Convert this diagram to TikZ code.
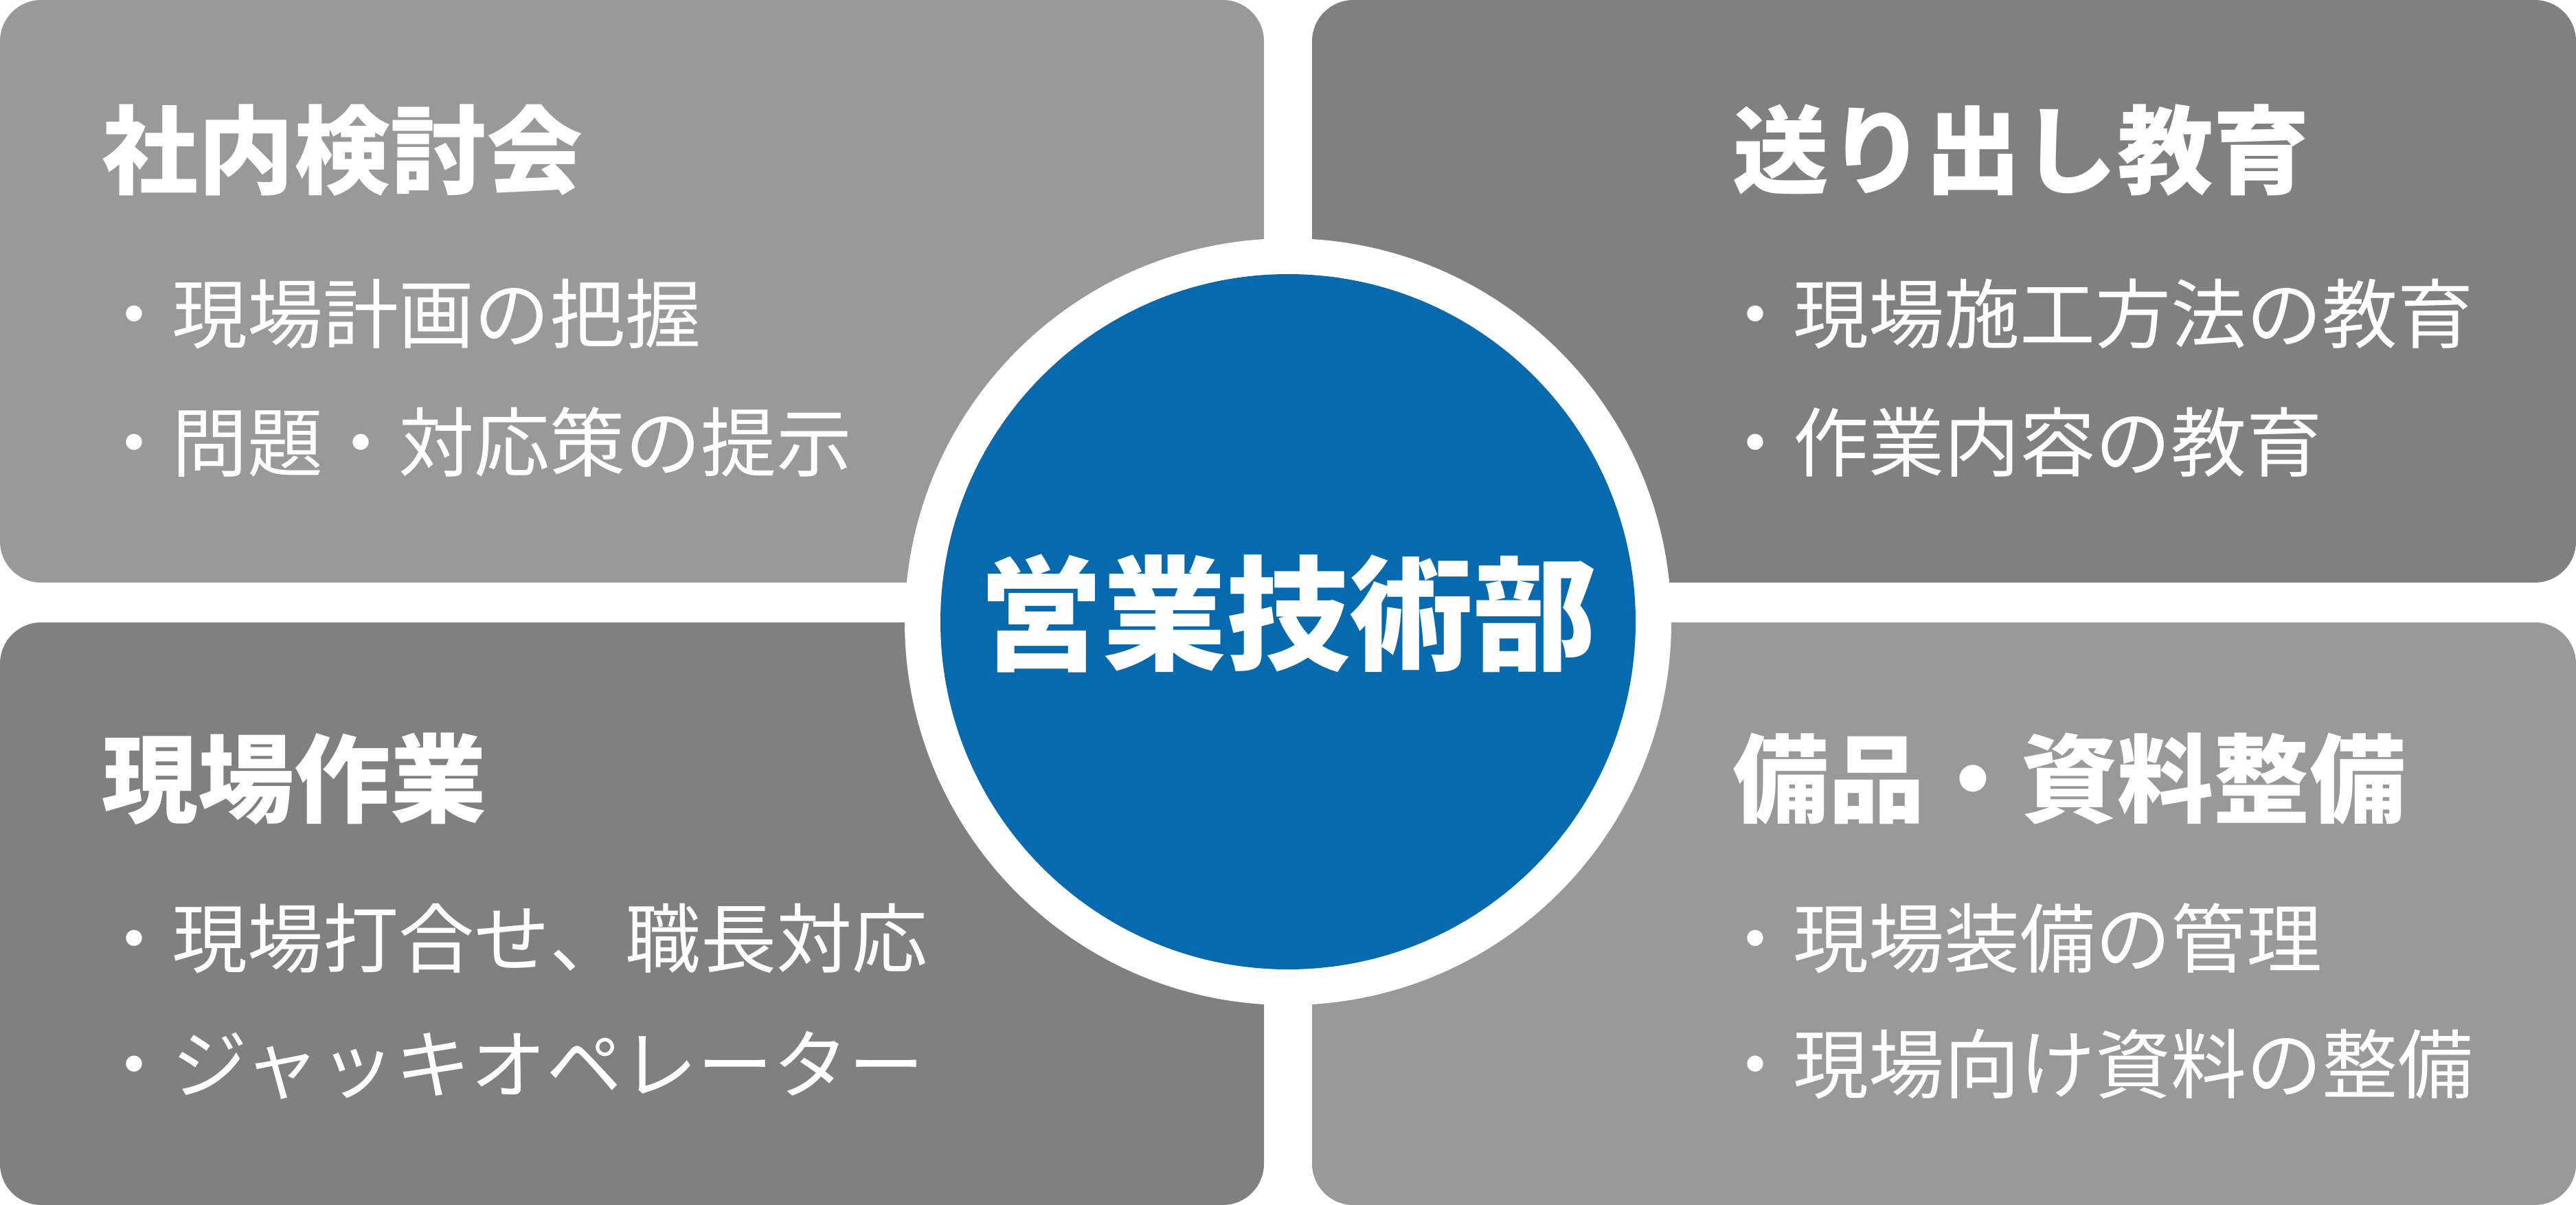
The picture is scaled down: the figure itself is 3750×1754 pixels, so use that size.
\documentclass[tikz,border=0pt]{standalone}
\usepackage{fontspec}
\setmainfont{Noto Sans CJK JP}
\definecolor{lightgray}{HTML}{999999}
\definecolor{darkgray}{HTML}{808080}
\definecolor{coreblue}{HTML}{086AAE}
\begin{document}
\begin{tikzpicture}[x=0.1mm,y=-0.1mm,
  panel/.style={rectangle, rounded corners=6mm, inner sep=0pt, outer sep=0pt,
    minimum width=184mm, minimum height=84.8mm, anchor=north west},
  heading/.style={text=white, inner sep=0pt, anchor=base west,
    font=\fontsize{39.8pt}{46pt}\selectfont\bfseries},
  item/.style={text=white, inner sep=0pt, anchor=base west,
    font=\fontsize{31.3pt}{37pt}\selectfont},
  core/.style={text=white, inner sep=0pt, anchor=base,
    font=\fontsize{51.2pt}{60pt}\selectfont\bfseries}]
\useasboundingbox (0,0) rectangle (3750,1754);
% panels
\node[panel, fill=lightgray] (tl) at (0,0) {};
\node[panel, fill=darkgray] (tr) at (1910,0) {};
\node[panel, fill=darkgray] (bl) at (0,906) {};
\node[panel, fill=lightgray] (br) at (1910,906) {};
% centre circles
\node[circle, fill=white, minimum size=111.6mm, inner sep=0pt] (ring) at (1875,905) {};
\node[circle, fill=coreblue, minimum size=101.2mm, inner sep=0pt] (disc) at (1875,905) {};
\node[core] (coretext) at (1875,961) {営業技術部};
% top left
\node[heading] (tlh) at (148,272) {社内検討会};
\node[item] (tl1) at (140,498) {・現場計画の把握};
\node[item] (tl2) at (140,685) {・問題・対応策の提示};
% top right
\node[heading] (trh) at (2522,272) {送り出し教育};
\node[item] (tr1) at (2500,498) {・現場施工方法の教育};
\node[item] (tr2) at (2500,685) {・作業内容の教育};
% bottom left
\node[heading] (blh) at (148,1186) {現場作業};
\node[item] (bl1) at (140,1407) {・現場打合せ、職長対応};
\node[item] (bl2) at (140,1590) {・ジャッキオペレーター};
% bottom right
\node[heading] (brh) at (2522,1186) {備品・資料整備};
\node[item] (br1) at (2500,1407) {・現場装備の管理};
\node[item] (br2) at (2500,1590) {・現場向け資料の整備};
\end{tikzpicture}
\end{document}
